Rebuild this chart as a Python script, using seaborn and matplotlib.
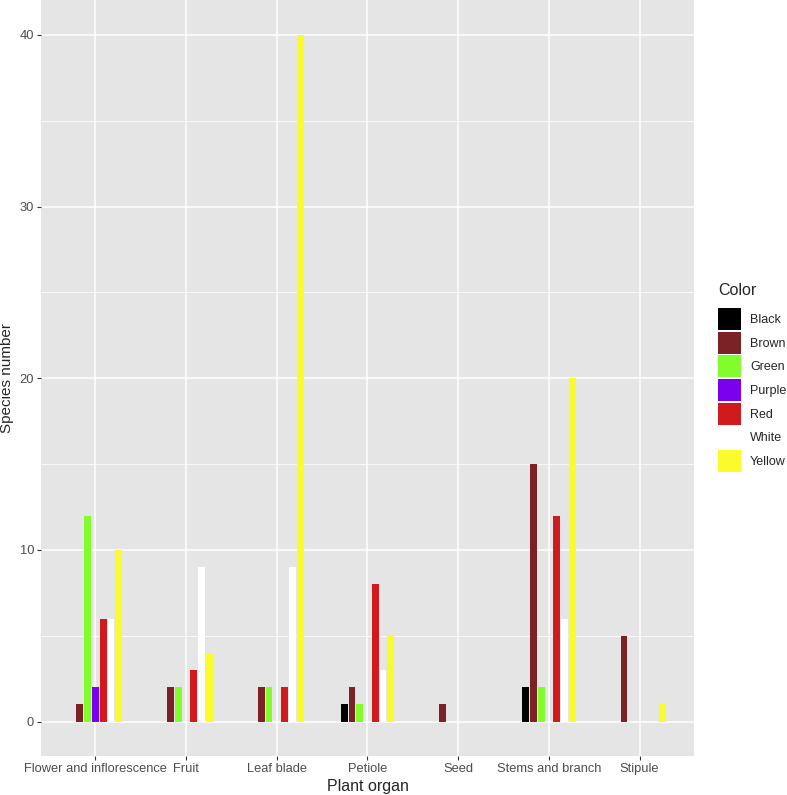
import pandas as pd
import matplotlib
matplotlib.use('Agg')
import matplotlib.pyplot as plt
import seaborn as sns
from matplotlib.patches import Patch
from matplotlib.ticker import MultipleLocator

ORGANS = ['Flower and inflorescence', 'Fruit', 'Leaf blade', 'Petiole',
          'Seed', 'Stems and branch', 'Stipule']
COLORS = ['Black', 'Brown', 'Green', 'Purple', 'Red', 'White', 'Yellow']
PALETTE = ['#000000', '#7a2225', '#82fc2c', '#7a00ee', '#d01a1d', '#ffffff', '#fbfb2b']

# species number per organ, one list per colour (order follows ORGANS)
black = [0, 0, 0, 1, 0, 2, 0]
brown = [1, 2, 2, 2, 1, 15, 5]
green = [12, 2, 2, 1, 0, 2, 0]
purple = [2, 0, 0, 0, 0, 0, 0]
red = [6, 3, 2, 8, 0, 12, 0]
white = [6, 9, 9, 3, 0, 6, 0]
yellow = [10, 4, 40, 5, 0, 20, 1]


def get_figure_data():
    series = [black, brown, green, purple, red, white, yellow]
    rows = []
    for color, values in zip(COLORS, series):
        for organ, v in zip(ORGANS, values):
            rows.append({'Plant organ': organ, 'Species number': v, 'Color': color})
    return pd.DataFrame(rows)


def draw_figure(df):
    sns.set_theme(style='darkgrid')
    plt.rcParams['font.family'] = ['Liberation Sans', 'DejaVu Sans']
    fig = plt.figure(figsize=(7.87, 7.95), dpi=100)
    ax = fig.add_axes([0.0521, 0.0491, 0.8297, 0.9503])
    ax.set_facecolor('#e5e5e5')

    sns.barplot(data=df, x='Plant organ', y='Species number', hue='Color',
                order=ORGANS, hue_order=COLORS, palette=PALETTE,
                width=0.6, gap=0.12, linewidth=0, saturation=1,
                legend=False, ax=ax)

    ax.set_xlim(-0.6, 6.6)
    ax.set_ylim(-2, 42)
    ax.yaxis.set_major_locator(MultipleLocator(10))
    ax.yaxis.set_minor_locator(MultipleLocator(5))
    ax.grid(which='major', color='white', linewidth=1.1)
    ax.grid(which='minor', axis='y', color='white', linewidth=0.55)
    ax.set_axisbelow(True)
    for s in ax.spines.values():
        s.set_visible(False)

    ax.tick_params(axis='both', which='major', length=3, width=0.8, color='#333333',
                   labelsize=9.3, labelcolor='#4d4d4d', pad=2, bottom=True, left=True)
    ax.tick_params(axis='both', which='minor', length=0)
    ax.set_xlabel('Plant organ', fontsize=11.5, labelpad=3)
    ax.set_ylabel('Species number', fontsize=11, labelpad=4)

    handles = [Patch(facecolor=c, edgecolor='none') for c in PALETTE]
    leg = fig.legend(handles, COLORS, title='Color', loc='center left',
                     bbox_to_anchor=(0.906, 0.525), frameon=False,
                     fontsize=9, title_fontsize=11.5, handlelength=1.85,
                     handleheight=2.35, labelspacing=0.12, handletextpad=0.7,
                     borderaxespad=0, alignment='left')
    leg._legend_box.sep = 7

    fig.savefig('out.png', dpi=100)


def main():
    df = get_figure_data()
    draw_figure(df)


if __name__ == '__main__':
    main()
